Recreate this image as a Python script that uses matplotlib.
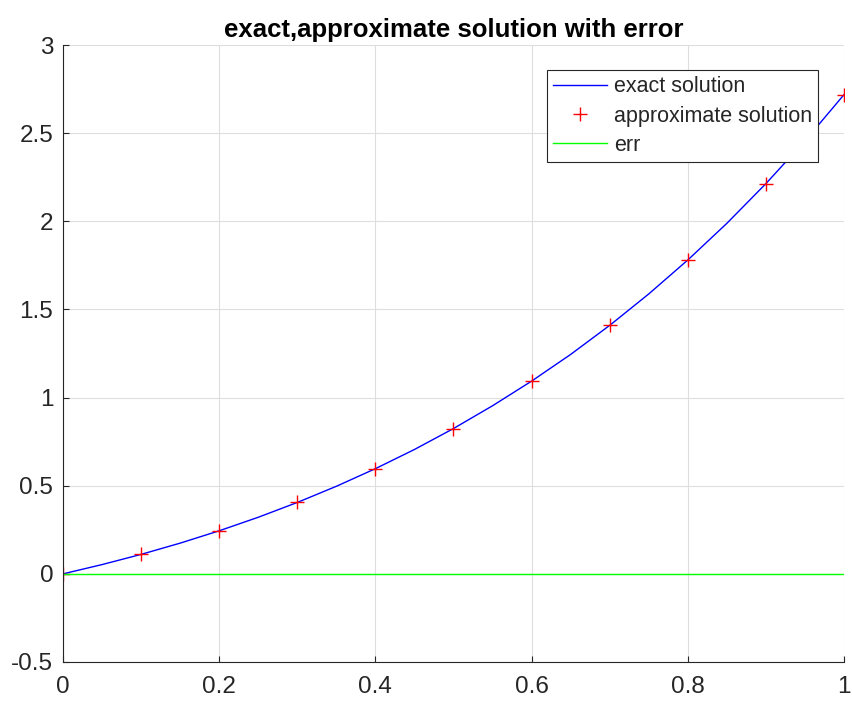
import matplotlib
matplotlib.use("Agg")
import matplotlib.pyplot as plt

plt.rcParams['font.family'] = ['Liberation Sans', 'DejaVu Sans']

x_exact = [0.0, 0.05, 0.1, 0.15, 0.2, 0.25, 0.3, 0.35, 0.4, 0.45, 0.5,
           0.55, 0.6, 0.65, 0.7, 0.75, 0.8, 0.85, 0.9, 0.95, 1.0]
y_exact = [0.0, 0.0526, 0.1105, 0.1743, 0.2443, 0.3210, 0.4050, 0.4967, 0.5967, 0.7055, 0.8244,
           0.9536, 1.0933, 1.2447, 1.4096, 1.5878, 1.7804, 1.9883, 2.2136, 2.4560, 2.7183]

# approximate solution points
x_approx = [0.0, 0.1, 0.2, 0.3, 0.4, 0.5, 0.6, 0.7, 0.8, 0.9, 1.0]
y_approx = [0.0, 0.1105, 0.2443, 0.4050, 0.5967, 0.8244, 1.0933, 1.4096, 1.7804, 2.2136, 2.7183]

# error
err = [0.0, 0.0, 0.0, 0.0, 0.0, 0.0, 0.0, 0.0, 0.0, 0.0, 0.0]

x_ticks = [0, 0.2, 0.4, 0.6, 0.8, 1]
x_ticklabels = ['0', '0.2', '0.4', '0.6', '0.8', '1']
y_ticks = [-0.5, 0, 0.5, 1, 1.5, 2, 2.5, 3]
y_ticklabels = ['-0.5', '0', '0.5', '1', '1.5', '2', '2.5', '3']

fig = plt.figure(figsize=(8.53, 7.01), dpi=100)
ax = fig.add_axes([63/853, 1-662/701, (844-63)/853, (662-45)/701])

ax.plot(x_exact, y_exact, color='#0000ff', lw=1.0, label='exact solution')
ax.plot(x_approx, y_approx, linestyle='none', marker='+', color='#ff0000',
        markersize=9.5, markeredgewidth=1.0, label='approximate solution')
ax.plot(x_approx, err, color='#00ff00', lw=1.0, label='err')

ax.set_xlim(0, 1)
ax.set_ylim(-0.5, 3)
ax.set_xticks(x_ticks)
ax.set_xticklabels(x_ticklabels)
ax.set_yticks(y_ticks)
ax.set_yticklabels(y_ticklabels)
ax.tick_params(direction='in', length=4, labelsize=17.5, colors='#262626', width=0.8)
ax.tick_params(axis='x', pad=10)
ax.tick_params(axis='y', pad=7)
ax.grid(True, color='#dedede', lw=0.8)
ax.set_axisbelow(True)
for s in ['top', 'right']:
    ax.spines[s].set_visible(False)
for s in ['left', 'bottom']:
    ax.spines[s].set_color('#262626')
    ax.spines[s].set_linewidth(0.8)

ax.set_title('exact,approximate solution with error', fontsize=18.5, fontweight='bold', pad=6)

leg = ax.legend(loc='upper left', bbox_to_anchor=((547-63)/781, 1-(70-45)/617), fontsize=15.5,
                frameon=True, fancybox=False, framealpha=1, edgecolor='#262626',
                handlelength=2.5, handletextpad=0.3, borderpad=0.3, labelspacing=0.38,
                borderaxespad=0)
leg.get_frame().set_linewidth(0.8)
for t in leg.get_texts():
    t.set_color('#262626')

fig.savefig('out.png', dpi=100)
